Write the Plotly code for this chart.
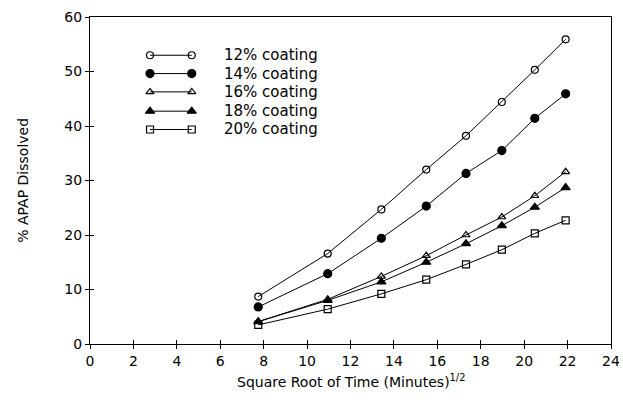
import plotly.graph_objects as go

# ---- data ----
sqrt_time = [7.75, 10.95, 13.42, 15.49, 17.32, 18.97, 20.49, 21.91]
coat_12 = [8.7, 16.6, 24.7, 32.0, 38.2, 44.4, 50.3, 55.9]
coat_14 = [6.8, 12.9, 19.4, 25.3, 31.3, 35.5, 41.4, 45.9]
coat_16 = [4.1, 8.2, 12.4, 16.2, 20.0, 23.3, 27.2, 31.6]
coat_18 = [4.1, 8.0, 11.4, 15.0, 18.4, 21.7, 25.1, 28.7]
coat_20 = [3.5, 6.4, 9.2, 11.8, 14.6, 17.3, 20.3, 22.7]
series_names = ["12% coating", "14% coating", "16% coating", "18% coating", "20% coating"]
x_ticks = [0, 2, 4, 6, 8, 10, 12, 14, 16, 18, 20, 22, 24]
y_ticks = [0, 10, 20, 30, 40, 50, 60]

series = [coat_12, coat_14, coat_16, coat_18, coat_20]
symbols = ["circle-open", "circle", "triangle-up-open", "triangle-up", "square-open"]
sizes = [7, 8, 7, 8, 7]

FONT = "DejaVu Sans"
fig = go.Figure()

for name, vals, sym, sz in zip(series_names, series, symbols, sizes):
    fig.add_trace(go.Scatter(
        x=sqrt_time, y=vals, mode="lines+markers", name=name,
        line=dict(color="black", width=1),
        marker=dict(symbol=sym, size=sz, color="black", line=dict(color="black", width=1.2)),
        showlegend=False, hoverinfo="x+y",
    ))

# custom legend: symbol — line — symbol, drawn on a hidden 0..1 overlay axis
leg_y = [0.883, 0.827, 0.771, 0.712, 0.656]
leg_x0, leg_x1, leg_tx = 0.1152, 0.1953, 0.2529
for name, sym, sz, ly in zip(series_names, symbols, sizes, leg_y):
    fig.add_trace(go.Scatter(
        x=[leg_x0, leg_x1], y=[ly, ly], xaxis="x2", yaxis="y2",
        mode="lines+markers", showlegend=False, hoverinfo="skip",
        line=dict(color="black", width=1),
        marker=dict(symbol=sym, size=sz, color="black", line=dict(color="black", width=1.2)),
    ))
    fig.add_annotation(x=leg_tx, y=ly, xref="paper", yref="paper", text=name,
                       showarrow=False, xanchor="left", yanchor="middle",
                       font=dict(family=FONT, size=15, color="black"))

# axis titles
fig.add_annotation(x=0.5, y=-0.113, xref="paper", yref="paper",
                   text="Square Root of Time (Minutes)<sup>1/2</sup>",
                   showarrow=False, xanchor="center", yanchor="middle",
                   font=dict(family=FONT, size=14, color="black"))
fig.add_annotation(x=-0.13, y=0.5, xref="paper", yref="paper",
                   text="% APAP Dissolved", textangle=-90,
                   showarrow=False, xanchor="center", yanchor="middle",
                   font=dict(family=FONT, size=14, color="black"))

# invisible trace for the inside-tick overlay axes
fig.add_trace(go.Scatter(x=[0], y=[0], xaxis="x3", yaxis="y3", mode="markers",
                         marker=dict(opacity=0), showlegend=False, hoverinfo="skip"))

axis_common = dict(showgrid=False, zeroline=False, color="black", automargin=False)
tf = dict(family=FONT, size=14, color="black")
fig.update_layout(
    width=623, height=410,
    margin=dict(l=90, r=12, t=17, b=66, autoexpand=False),
    paper_bgcolor="white", plot_bgcolor="white",
    font=dict(family=FONT, size=14, color="black"),
    xaxis=dict(range=[0, 24], tickvals=x_ticks, ticks="outside", ticklen=4, tickwidth=1,
               tickcolor="black", showline=True, linecolor="black", linewidth=1, mirror=True,
               tickfont=tf, **axis_common),
    yaxis=dict(range=[0, 60], tickvals=y_ticks, ticks="outside", ticklen=4, tickwidth=1,
               tickcolor="black", showline=True, linecolor="black", linewidth=1, mirror=True,
               tickfont=tf, **axis_common),
    xaxis2=dict(range=[0, 1], overlaying="x", visible=False, fixedrange=True),
    yaxis2=dict(range=[0, 1], overlaying="y", visible=False, fixedrange=True),
    xaxis3=dict(range=[0, 24], overlaying="x", tickvals=x_ticks, ticks="inside", ticklen=4,
                tickwidth=1, tickcolor="black", showticklabels=False, showline=False,
                anchor="y3", **axis_common),
    yaxis3=dict(range=[0, 60], overlaying="y", tickvals=y_ticks, ticks="inside", ticklen=4,
                tickwidth=1, tickcolor="black", showticklabels=False, showline=False,
                anchor="x3", **axis_common),
)

# remove the browser's default page margin so the figure fills the window exactly
fig.write_html("out.html", config={"displayModeBar": False},
               post_script="document.body.style.margin='0';document.body.style.overflow='hidden';")
